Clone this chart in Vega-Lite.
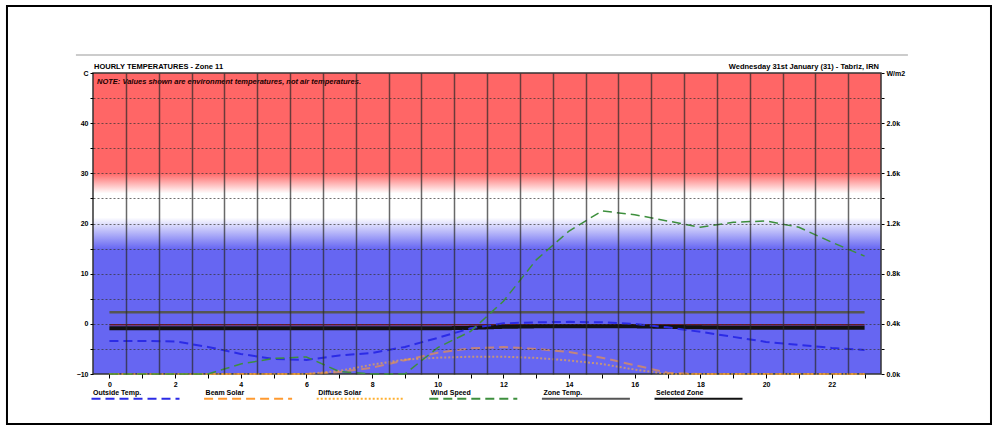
{
"$schema":"https://vega.github.io/schema/vega-lite/v6.json",
"width":788,"height":301,"padding":5,"background":"white",
"config":{"view":{"stroke":null},"font":"Liberation Sans"},
"datasets":{
"temps":[
{"hour":0,"series":"Outside Temp.","value":-3.4},{"hour":1,"series":"Outside Temp.","value":-3.4},{"hour":2,"series":"Outside Temp.","value":-3.5},{"hour":3,"series":"Outside Temp.","value":-4.6},{"hour":4,"series":"Outside Temp.","value":-6.0},{"hour":5,"series":"Outside Temp.","value":-7.0},{"hour":6,"series":"Outside Temp.","value":-7.2},{"hour":7,"series":"Outside Temp.","value":-6.3},{"hour":8,"series":"Outside Temp.","value":-5.8},{"hour":9,"series":"Outside Temp.","value":-4.6},{"hour":10,"series":"Outside Temp.","value":-2.8},{"hour":11,"series":"Outside Temp.","value":-0.9},{"hour":12,"series":"Outside Temp.","value":0.1},{"hour":13,"series":"Outside Temp.","value":0.3},{"hour":14,"series":"Outside Temp.","value":0.4},{"hour":15,"series":"Outside Temp.","value":0.3},{"hour":16,"series":"Outside Temp.","value":0.0},{"hour":17,"series":"Outside Temp.","value":-0.7},{"hour":18,"series":"Outside Temp.","value":-1.6},{"hour":19,"series":"Outside Temp.","value":-2.6},{"hour":20,"series":"Outside Temp.","value":-3.6},{"hour":21,"series":"Outside Temp.","value":-4.2},{"hour":22,"series":"Outside Temp.","value":-4.8},{"hour":23,"series":"Outside Temp.","value":-5.2},
{"hour":0,"series":"Zone Temp.","value":2.3},{"hour":1,"series":"Zone Temp.","value":2.3},{"hour":2,"series":"Zone Temp.","value":2.3},{"hour":3,"series":"Zone Temp.","value":2.3},{"hour":4,"series":"Zone Temp.","value":2.3},{"hour":5,"series":"Zone Temp.","value":2.3},{"hour":6,"series":"Zone Temp.","value":2.3},{"hour":7,"series":"Zone Temp.","value":2.3},{"hour":8,"series":"Zone Temp.","value":2.3},{"hour":9,"series":"Zone Temp.","value":2.3},{"hour":10,"series":"Zone Temp.","value":2.3},{"hour":11,"series":"Zone Temp.","value":2.3},{"hour":12,"series":"Zone Temp.","value":2.3},{"hour":13,"series":"Zone Temp.","value":2.3},{"hour":14,"series":"Zone Temp.","value":2.3},{"hour":15,"series":"Zone Temp.","value":2.3},{"hour":16,"series":"Zone Temp.","value":2.3},{"hour":17,"series":"Zone Temp.","value":2.3},{"hour":18,"series":"Zone Temp.","value":2.3},{"hour":19,"series":"Zone Temp.","value":2.3},{"hour":20,"series":"Zone Temp.","value":2.3},{"hour":21,"series":"Zone Temp.","value":2.3},{"hour":22,"series":"Zone Temp.","value":2.3},{"hour":23,"series":"Zone Temp.","value":2.3},
{"hour":0,"series":"Selected Zone","value":-0.9},{"hour":1,"series":"Selected Zone","value":-0.9},{"hour":2,"series":"Selected Zone","value":-0.9},{"hour":3,"series":"Selected Zone","value":-0.9},{"hour":4,"series":"Selected Zone","value":-0.9},{"hour":5,"series":"Selected Zone","value":-0.9},{"hour":6,"series":"Selected Zone","value":-0.9},{"hour":7,"series":"Selected Zone","value":-0.9},{"hour":8,"series":"Selected Zone","value":-0.9},{"hour":9,"series":"Selected Zone","value":-0.9},{"hour":10,"series":"Selected Zone","value":-0.9},{"hour":11,"series":"Selected Zone","value":-0.8},{"hour":12,"series":"Selected Zone","value":-0.6},{"hour":13,"series":"Selected Zone","value":-0.5},{"hour":14,"series":"Selected Zone","value":-0.5},{"hour":15,"series":"Selected Zone","value":-0.5},{"hour":16,"series":"Selected Zone","value":-0.5},{"hour":17,"series":"Selected Zone","value":-0.6},{"hour":18,"series":"Selected Zone","value":-0.7},{"hour":19,"series":"Selected Zone","value":-0.8},{"hour":20,"series":"Selected Zone","value":-0.8},{"hour":21,"series":"Selected Zone","value":-0.8},{"hour":22,"series":"Selected Zone","value":-0.8},{"hour":23,"series":"Selected Zone","value":-0.8},
{"hour":0,"series":"Other Zone","value":-0.2},{"hour":1,"series":"Other Zone","value":-0.2},{"hour":2,"series":"Other Zone","value":-0.2},{"hour":3,"series":"Other Zone","value":-0.2},{"hour":4,"series":"Other Zone","value":-0.2},{"hour":5,"series":"Other Zone","value":-0.2},{"hour":6,"series":"Other Zone","value":-0.2},{"hour":7,"series":"Other Zone","value":-0.2},{"hour":8,"series":"Other Zone","value":-0.2},{"hour":9,"series":"Other Zone","value":-0.2},{"hour":10,"series":"Other Zone","value":-0.2},{"hour":11,"series":"Other Zone","value":-0.2},{"hour":12,"series":"Other Zone","value":-0.2},{"hour":13,"series":"Other Zone","value":-0.2},{"hour":14,"series":"Other Zone","value":-0.2},{"hour":15,"series":"Other Zone","value":-0.2},{"hour":16,"series":"Other Zone","value":-0.2},{"hour":17,"series":"Other Zone","value":-0.2},{"hour":18,"series":"Other Zone","value":-0.2},{"hour":19,"series":"Other Zone","value":-0.2},{"hour":20,"series":"Other Zone","value":-0.2},{"hour":21,"series":"Other Zone","value":-0.2},{"hour":22,"series":"Other Zone","value":-0.2},{"hour":23,"series":"Other Zone","value":-0.2}
],
"solar":[
{"hour":0,"series":"Beam Solar","value":0},{"hour":1,"series":"Beam Solar","value":0},{"hour":2,"series":"Beam Solar","value":0},{"hour":3,"series":"Beam Solar","value":0},{"hour":4,"series":"Beam Solar","value":0},{"hour":5,"series":"Beam Solar","value":0},{"hour":6,"series":"Beam Solar","value":0},{"hour":7,"series":"Beam Solar","value":15},{"hour":8,"series":"Beam Solar","value":50},{"hour":9,"series":"Beam Solar","value":110},{"hour":10,"series":"Beam Solar","value":170},{"hour":11,"series":"Beam Solar","value":205},{"hour":12,"series":"Beam Solar","value":215},{"hour":13,"series":"Beam Solar","value":200},{"hour":14,"series":"Beam Solar","value":175},{"hour":15,"series":"Beam Solar","value":130},{"hour":16,"series":"Beam Solar","value":70},{"hour":17,"series":"Beam Solar","value":10},{"hour":18,"series":"Beam Solar","value":0},{"hour":19,"series":"Beam Solar","value":0},{"hour":20,"series":"Beam Solar","value":0},{"hour":21,"series":"Beam Solar","value":0},{"hour":22,"series":"Beam Solar","value":0},{"hour":23,"series":"Beam Solar","value":0},
{"hour":0,"series":"Diffuse Solar","value":0},{"hour":1,"series":"Diffuse Solar","value":0},{"hour":2,"series":"Diffuse Solar","value":0},{"hour":3,"series":"Diffuse Solar","value":0},{"hour":4,"series":"Diffuse Solar","value":0},{"hour":5,"series":"Diffuse Solar","value":0},{"hour":6,"series":"Diffuse Solar","value":0},{"hour":7,"series":"Diffuse Solar","value":25},{"hour":8,"series":"Diffuse Solar","value":75},{"hour":9,"series":"Diffuse Solar","value":115},{"hour":10,"series":"Diffuse Solar","value":130},{"hour":11,"series":"Diffuse Solar","value":138},{"hour":12,"series":"Diffuse Solar","value":138},{"hour":13,"series":"Diffuse Solar","value":128},{"hour":14,"series":"Diffuse Solar","value":108},{"hour":15,"series":"Diffuse Solar","value":80},{"hour":16,"series":"Diffuse Solar","value":35},{"hour":17,"series":"Diffuse Solar","value":0},{"hour":18,"series":"Diffuse Solar","value":0},{"hour":19,"series":"Diffuse Solar","value":0},{"hour":20,"series":"Diffuse Solar","value":0},{"hour":21,"series":"Diffuse Solar","value":0},{"hour":22,"series":"Diffuse Solar","value":0},{"hour":23,"series":"Diffuse Solar","value":0}
],
"wind":[
{"hour":0,"series":"Wind Speed","value":0},{"hour":1,"series":"Wind Speed","value":0},{"hour":2,"series":"Wind Speed","value":0},{"hour":3,"series":"Wind Speed","value":0},{"hour":4,"series":"Wind Speed","value":0.4},{"hour":5,"series":"Wind Speed","value":0.62},{"hour":6,"series":"Wind Speed","value":0.68},{"hour":7,"series":"Wind Speed","value":0.1},{"hour":8,"series":"Wind Speed","value":0},{"hour":9,"series":"Wind Speed","value":0},{"hour":10,"series":"Wind Speed","value":1.05},{"hour":11,"series":"Wind Speed","value":1.7},{"hour":12,"series":"Wind Speed","value":2.9},{"hour":13,"series":"Wind Speed","value":4.55},{"hour":14,"series":"Wind Speed","value":5.7},{"hour":15,"series":"Wind Speed","value":6.5},{"hour":16,"series":"Wind Speed","value":6.35},{"hour":17,"series":"Wind Speed","value":6.1},{"hour":18,"series":"Wind Speed","value":5.85},{"hour":19,"series":"Wind Speed","value":6.05},{"hour":20,"series":"Wind Speed","value":6.1},{"hour":21,"series":"Wind Speed","value":5.85},{"hour":22,"series":"Wind Speed","value":5.25},{"hour":23,"series":"Wind Speed","value":4.7}
]
},
"layer":[
{"data":{"values":[{}]},
 "mark":{"type":"rect","fill":{"gradient":"linear","x1":0,"y1":0,"x2":0,"y2":1,"stops":[{"offset":0,"color":"#ff6666"},{"offset":0.333,"color":"#ff6666"},{"offset":0.4,"color":"#ffffff"},{"offset":0.48,"color":"#ffffff"},{"offset":0.585,"color":"#6666f2"},{"offset":1,"color":"#6666f2"}]},"stroke":"#333333","strokeWidth":1.5},
 "encoding":{
  "x":{"datum":-0.5,"type":"quantitative","scale":{"domain":[-0.5,23.5],"nice":false,"zero":false},"axis":null},
  "x2":{"datum":23.5},
  "y":{"datum":50,"type":"quantitative","scale":{"domain":[-10,50],"nice":false,"zero":false},"axis":null},
  "y2":{"datum":-10}}},
{"data":{"name":"temps"},"transform":[{"filter":"datum.series == 'Other Zone'"}],
 "mark":{"type":"line","color":"#7a1020","strokeWidth":1.5},
 "encoding":{"x":{"field":"hour","type":"quantitative","scale":{"domain":[-0.5,23.5],"nice":false,"zero":false},
   "axis":{"orient":"bottom","values":[0,0.5,1,1.5,2,2.5,3,3.5,4,4.5,5,5.5,6,6.5,7,7.5,8,8.5,9,9.5,10,10.5,11,11.5,12,12.5,13,13.5,14,14.5,15,15.5,16,16.5,17,17.5,18,18.5,19,19.5,20,20.5,21,21.5,22,22.5,23],
    "title":null,"domain":false,"labelExpr":"datum.value % 2 == 0 ? format(datum.value, 'd') : ''","labelFont":"Liberation Sans","labelFontSize":7,"labelFontWeight":"bold","labelColor":"#000000","labelPadding":2,"labelOverlap":false,"labelFlush":false,
    "tickSize":4,"tickColor":{"condition":{"test":"datum.value % 1 == 0","value":"#000000"},"value":"transparent"},
    "grid":true,"gridColor":"#2a2a2a","gridWidth":1.5,"gridOpacity":{"condition":{"test":"datum.value % 1 != 0","value":0.7},"value":0},"zindex":1}},
  "y":{"field":"value","type":"quantitative","scale":{"domain":[-10,50],"nice":false,"zero":false},
   "axis":{"values":[-10,-5,0,5,10,15,20,25,30,35,40,45,50],"title":null,"domain":false,
    "labelExpr":"datum.value == 50 ? 'C' : (datum.value % 10 == 0 ? datum.label : '')","labelFont":"Liberation Sans","labelFontSize":7,"labelFontWeight":"bold","labelColor":"#000000","labelPadding":2,"labelOverlap":false,"labelFlush":false,
    "tickSize":3,"tickColor":"#000000","grid":true,"gridColor":"#333333","gridDash":[2,2],"gridWidth":1,
    "gridOpacity":{"condition":{"test":"datum.value > -10 && datum.value < 50","value":0.7},"value":0},"zindex":1}}}},
{"data":{"name":"temps"},"transform":[{"filter":"datum.series == 'Zone Temp.'"}],
 "mark":{"type":"line","strokeWidth":2.5},
 "encoding":{"x":{"field":"hour","type":"quantitative","scale":{"domain":[-0.5,23.5],"nice":false,"zero":false},"axis":null},
  "y":{"field":"value","type":"quantitative","scale":{"domain":[-10,50],"nice":false,"zero":false},"axis":null},
  "color":{"field":"series","type":"nominal","scale":{"domain":["Outside Temp.","Beam Solar","Diffuse Solar","Wind Speed","Zone Temp.","Selected Zone"],"range":["#2b2be6","#ff9a30","#ffb030","#3d8f3d","#555555","#111111"]},
   "legend":{"title":null,"orient":"none","legendX":-3,"legendY":316,"direction":"horizontal","columns":6,"symbolType":"M-1,3L43,3","symbolSize":16,"symbolStrokeWidth":2,"symbolOpacity":1,"labelOffset":-4,"labelFont":"Liberation Sans","labelFontSize":7,"labelFontWeight":"bold","labelColor":"#000000","columnPadding":15.6,"gridAlign":"all","padding":0}},
  "strokeDash":{"field":"series","type":"nominal","scale":{"domain":["Outside Temp.","Beam Solar","Diffuse Solar","Wind Speed","Zone Temp.","Selected Zone"],"range":[[9,5],[9,5],[2,2],[9,5],[1,0],[1,0]]},
   "legend":{"title":null,"orient":"none","legendX":-3,"legendY":316,"direction":"horizontal","columns":6,"symbolType":"M-1,3L43,3","symbolSize":16,"symbolStrokeWidth":2,"symbolOpacity":1,"labelOffset":-4,"labelFont":"Liberation Sans","labelFontSize":7,"labelFontWeight":"bold","labelColor":"#000000","columnPadding":15.6,"gridAlign":"all","padding":0}}}},
{"data":{"name":"temps"},"transform":[{"filter":"datum.series == 'Selected Zone'"}],
 "mark":{"type":"line","strokeWidth":4},
 "encoding":{"x":{"field":"hour","type":"quantitative","scale":{"domain":[-0.5,23.5],"nice":false,"zero":false},"axis":null},
  "y":{"field":"value","type":"quantitative","scale":{"domain":[-10,50],"nice":false,"zero":false},"axis":null},
  "color":{"field":"series","type":"nominal","scale":{"domain":["Outside Temp.","Beam Solar","Diffuse Solar","Wind Speed","Zone Temp.","Selected Zone"],"range":["#2b2be6","#ff9a30","#ffb030","#3d8f3d","#555555","#111111"]},"legend":null},
  "strokeDash":{"field":"series","type":"nominal","scale":{"domain":["Outside Temp.","Beam Solar","Diffuse Solar","Wind Speed","Zone Temp.","Selected Zone"],"range":[[9,5],[9,5],[2,2],[9,5],[1,0],[1,0]]},"legend":null}}},
{"data":{"name":"temps"},"transform":[{"filter":"datum.series == 'Outside Temp.'"}],
 "mark":{"type":"line","strokeWidth":2},
 "encoding":{"x":{"field":"hour","type":"quantitative","scale":{"domain":[-0.5,23.5],"nice":false,"zero":false},"axis":null},
  "y":{"field":"value","type":"quantitative","scale":{"domain":[-10,50],"nice":false,"zero":false},"axis":null},
  "color":{"field":"series","type":"nominal","scale":{"domain":["Outside Temp.","Beam Solar","Diffuse Solar","Wind Speed","Zone Temp.","Selected Zone"],"range":["#2b2be6","#ff9a30","#ffb030","#3d8f3d","#555555","#111111"]},"legend":null},
  "strokeDash":{"field":"series","type":"nominal","scale":{"domain":["Outside Temp.","Beam Solar","Diffuse Solar","Wind Speed","Zone Temp.","Selected Zone"],"range":[[9,5],[9,5],[2,2],[9,5],[1,0],[1,0]]},"legend":null}}},
{"data":{"name":"solar"},
 "mark":{"type":"line","strokeWidth":2,"opacity":0.6},
 "encoding":{"x":{"field":"hour","type":"quantitative","scale":{"domain":[-0.5,23.5],"nice":false,"zero":false},"axis":null},
  "y":{"field":"value","type":"quantitative","scale":{"domain":[0,2400],"nice":false,"zero":false},
   "axis":{"orient":"right","values":[0,200,400,600,800,1000,1200,1400,1600,1800,2000,2200,2400],"title":null,"domain":false,"grid":false,
    "labelExpr":"datum.value == 2400 ? 'W/m2' : (datum.value % 400 == 0 ? format(datum.value/1000, '.1f') + 'k' : '')","labelFont":"Liberation Sans","labelFontSize":7,"labelFontWeight":"bold","labelColor":"#000000","labelPadding":2,"labelOverlap":false,"labelFlush":false,"tickSize":3,"tickColor":"#000000"}},
  "color":{"field":"series","type":"nominal","scale":{"domain":["Outside Temp.","Beam Solar","Diffuse Solar","Wind Speed","Zone Temp.","Selected Zone"],"range":["#2b2be6","#ff9a30","#ffb030","#3d8f3d","#555555","#111111"]},"legend":null},
  "strokeDash":{"field":"series","type":"nominal","scale":{"domain":["Outside Temp.","Beam Solar","Diffuse Solar","Wind Speed","Zone Temp.","Selected Zone"],"range":[[9,5],[9,5],[2,2],[9,5],[1,0],[1,0]]},"legend":null}}},
{"data":{"name":"wind"},
 "mark":{"type":"line","strokeWidth":1.5},
 "encoding":{"x":{"field":"hour","type":"quantitative","scale":{"domain":[-0.5,23.5],"nice":false,"zero":false},"axis":null},
  "y":{"field":"value","type":"quantitative","scale":{"domain":[0,12],"nice":false,"zero":false},"axis":null},
  "color":{"field":"series","type":"nominal","scale":{"domain":["Outside Temp.","Beam Solar","Diffuse Solar","Wind Speed","Zone Temp.","Selected Zone"],"range":["#2b2be6","#ff9a30","#ffb030","#3d8f3d","#555555","#111111"]},"legend":null},
  "strokeDash":{"field":"series","type":"nominal","scale":{"domain":["Outside Temp.","Beam Solar","Diffuse Solar","Wind Speed","Zone Temp.","Selected Zone"],"range":[[9,5],[9,5],[2,2],[9,5],[1,0],[1,0]]},"legend":null}}},
{"data":{"values":[{}]},
 "mark":{"type":"text","text":"HOURLY TEMPERATURES - Zone 11","align":"left","baseline":"bottom","dx":1,"dy":-2,"font":"Liberation Sans","fontSize":7.5,"fontWeight":"bold","color":"#000000"},
 "encoding":{"x":{"datum":-0.5,"type":"quantitative","scale":{"domain":[-0.5,23.5],"nice":false,"zero":false},"axis":null},
  "y":{"datum":50,"type":"quantitative","scale":{"domain":[-10,50],"nice":false,"zero":false},"axis":null}}},
{"data":{"values":[{}]},
 "mark":{"type":"text","text":"Wednesday 31st January (31) - Tabriz, IRN","align":"right","baseline":"bottom","dx":-2,"dy":-2,"font":"Liberation Sans","fontSize":7.5,"fontWeight":"bold","color":"#000000"},
 "encoding":{"x":{"datum":23.5,"type":"quantitative","scale":{"domain":[-0.5,23.5],"nice":false,"zero":false},"axis":null},
  "y":{"datum":50,"type":"quantitative","scale":{"domain":[-10,50],"nice":false,"zero":false},"axis":null}}},
{"data":{"values":[{}]},
 "mark":{"type":"text","text":"NOTE: Values shown are environment temperatures, not air temperatures.","align":"left","baseline":"middle","dx":4,"dy":9,"font":"Liberation Sans","fontSize":7.5,"fontWeight":"bold","fontStyle":"italic","color":"#1a0000"},
 "encoding":{"x":{"datum":-0.5,"type":"quantitative","scale":{"domain":[-0.5,23.5],"nice":false,"zero":false},"axis":null},
  "y":{"datum":50,"type":"quantitative","scale":{"domain":[-10,50],"nice":false,"zero":false},"axis":null}}},
{"data":{"values":[{}]},
 "mark":{"type":"rule","color":"#cccccc","strokeWidth":2},
 "encoding":{"x":{"datum":-1.02,"type":"quantitative","scale":{"domain":[-0.5,23.5],"nice":false,"zero":false},"axis":null},"x2":{"datum":24.32},
  "y":{"datum":53.6,"type":"quantitative","scale":{"domain":[-10,50],"nice":false,"zero":false},"axis":null}}},
{"data":{"values":[{}]},
 "mark":{"type":"rect","filled":false,"color":"#000000","strokeWidth":2},
 "encoding":{"x":{"datum":-3.12,"type":"quantitative","scale":{"domain":[-0.5,23.5],"nice":false,"zero":false},"axis":null},"x2":{"datum":26.85},
  "y":{"datum":63.35,"type":"quantitative","scale":{"domain":[-10,50],"nice":false,"zero":false},"axis":null},"y2":{"datum":-19.97}}}
],
"resolve":{"scale":{"x":"independent","y":"independent"}}
}
